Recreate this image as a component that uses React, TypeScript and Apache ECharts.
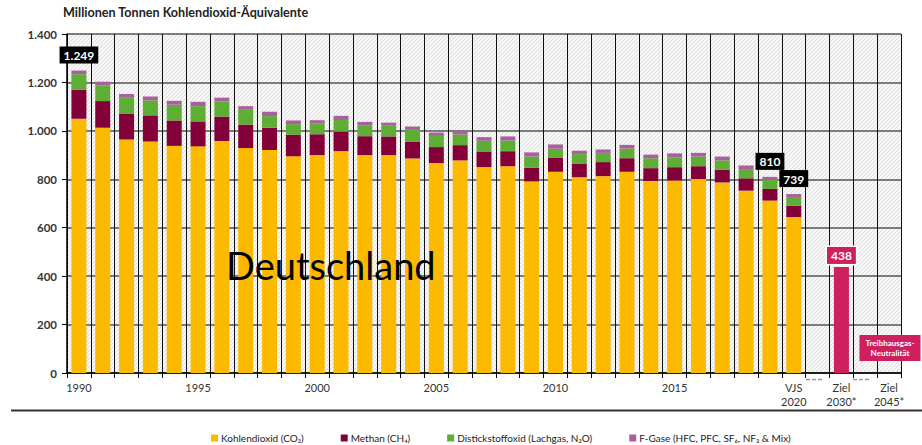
import React, { useEffect, useRef } from 'react';
import * as echarts from 'echarts';

const categories = [
  '1990', '1991', '1992', '1993', '1994', '1995', '1996', '1997', '1998', '1999',
  '2000', '2001', '2002', '2003', '2004', '2005', '2006', '2007', '2008', '2009',
  '2010', '2011', '2012', '2013', '2014', '2015', '2016', '2017', '2018', '2019',
  'VJS 2020', 'gap1', 'Ziel 2030*', 'gap2', 'Ziel 2045*',
];

const shownYearLabels = ['1990', '1995', '2000', '2005', '2010', '2015'];

const co2 = [1050, 1013, 964, 956, 938, 936, 958, 929, 921, 895, 900, 916, 900, 900, 886, 867, 878, 850, 854, 791, 831, 809, 813, 831, 793, 795, 801, 787, 753, 712, 644];
const ch4 = [120, 110, 108, 108, 105, 103, 101, 97, 92, 89, 86, 81, 78, 77, 70, 66, 63, 65, 62, 57, 59, 56, 58, 56, 53, 55, 53, 52, 51, 48, 47];
const n2o = [64, 65, 65, 62, 65, 63, 63, 61, 48, 44, 44, 48, 45, 44, 48, 46, 44, 44, 44, 46, 36, 39, 38, 40, 41, 40, 40, 39, 38, 37, 36];
const fgas = [15, 15, 15, 16, 16, 18, 15, 15, 18, 15, 14, 17, 14, 13, 14, 14, 15, 15, 17, 17, 18, 14, 14, 15, 15, 17, 15, 16, 15, 13, 12];

const target2030 = 438;
const labeledTotals = ['1990', '2019', 'VJS 2020'];

const seriesNames = [
  'Kohlendioxid (CO₂)',
  'Methan (CH₄)',
  'Distickstoffoxid (Lachgas, N₂O)',
  'F-Gase (HFC, PFC, SF₆, NF₃ & Mix)',
];
const colors = ['#FBBA00', '#830039', '#5EAD35', '#A8609E'];
const targetColor = '#CE1F5E';

const fmt = (v: number) => String(v).replace(/\B(?=(\d{3})+(?!\d))/g, '.');
const FONT = 'Lato, "Noto Sans", sans-serif';

function pad(arr: number[]) {
  return categories.map((_, i) => (i < arr.length ? arr[i] : '-'));
}

function makeHatch() {
  const c = document.createElement('canvas');
  const s = 4;
  c.width = s;
  c.height = s;
  const ctx = c.getContext('2d')!;
  ctx.fillStyle = '#f7f7f7';
  ctx.fillRect(0, 0, s, s);
  ctx.strokeStyle = '#dddddd';
  ctx.lineWidth = 1;
  ctx.beginPath();
  ctx.moveTo(-1, s + 1);
  ctx.lineTo(s + 1, -1);
  ctx.moveTo(-1, 1);
  ctx.lineTo(1, -1);
  ctx.moveTo(s - 1, s + 1);
  ctx.lineTo(s + 1, s - 1);
  ctx.stroke();
  return { url: c.toDataURL(), size: s };
}

export default function App() {
  const ref = useRef<HTMLDivElement>(null);
  useEffect(() => {
    const chart = echarts.init(ref.current!, null, { renderer: 'svg' });
    const hatch = makeHatch();
    const totals = co2.map((v, i) => v + ch4[i] + n2o[i] + fgas[i]);
    const gridL = 67, gridT = 34, gridR = 21, gridB = 72;
    const targetIdx = categories.indexOf('Ziel 2030*');

    const stackSeries = [co2, ch4, n2o, fgas].map((arr, si) => ({
      name: seriesNames[si],
      type: 'bar',
      stack: 'total',
      barWidth: 15,
      itemStyle: { color: colors[si] },
      emphasis: { disabled: true },
      data: pad(arr).map((v, i) => {
        if (si === 3 && labeledTotals.includes(categories[i])) {
          return {
            value: v,
            label: {
              show: true,
              position: 'top',
              distance: 7,
              formatter: fmt(totals[i]),
              color: '#fff',
              fontFamily: FONT,
              fontWeight: 'bold',
              fontSize: 12,
              backgroundColor: '#000',
              padding: [3, 4, 2, 4],
            },
          };
        }
        return v;
      }),
    }));

    const option: any = {
      animation: false,
      grid: { left: gridL, top: gridT, right: gridR, bottom: gridB },
      legend: {
        data: seriesNames,
        left: 206,
        top: 428,
        itemWidth: 7,
        itemHeight: 7,
        itemGap: 37,
        icon: 'rect',
        textStyle: { fontFamily: FONT, fontSize: 10, color: '#222', padding: [0, 0, 0, -2] },
      },
      xAxis: {
        type: 'category',
        data: categories,
        boundaryGap: true,
        axisLine: { lineStyle: { color: '#000', width: 1.5 } },
        axisTick: { show: true, interval: 0, length: 5, lineStyle: { color: '#000' } },
        splitLine: { show: true, interval: 0, lineStyle: { color: '#111', width: 1 } },
        axisLabel: {
          interval: 0,
          margin: 7,
          fontFamily: FONT,
          fontSize: 11,
          color: '#333',
          lineHeight: 14,
          formatter: (v: string) => {
            if (shownYearLabels.includes(v)) return v;
            if (v === 'VJS 2020' || v === 'Ziel 2030*' || v === 'Ziel 2045*') return v.replace(' ', '\n');
            return '';
          },
        },
      },
      yAxis: {
        type: 'value',
        min: 0,
        max: 1400,
        interval: 200,
        axisLine: { show: true, lineStyle: { color: '#000', width: 1.5 } },
        axisTick: { show: true, length: 5, lineStyle: { color: '#000' } },
        splitLine: { show: true, lineStyle: { color: '#555', width: 1.5 } },
        axisLabel: {
          formatter: (v: number) => fmt(v),
          fontFamily: FONT,
          fontWeight: 'bold',
          fontSize: 11.5,
          color: '#333',
          margin: 10,
        },
      },
      graphic: [
        {
          type: 'rect',
          z: -10,
          silent: true,
          shape: { x: gridL, y: gridT, width: 922 - gridL - gridR, height: 445 - gridT - gridB },
          style: {
            fill: { image: hatch.url, repeat: 'repeat', imageWidth: hatch.size, imageHeight: hatch.size },
          },
        },
        {
          type: 'text',
          left: 63,
          top: 6,
          style: { text: 'Millionen Tonnen Kohlendioxid-Äquivalente', font: `bold 12.6px ${FONT}`, fill: '#222' },
        },
        {
          type: 'text',
          x: 226,
          y: 265,
          z: 20,
          style: {
            text: 'Deutschland',
            font: `38px ${FONT}`,
            fill: '#000',
            textVerticalAlign: 'middle',
          },
        },
        {
          type: 'text',
          x: 890,
          y: 348,
          z: 20,
          style: {
            text: 'Treibhausgas-\nNeutralität',
            font: `bold 8px ${FONT}`,
            fill: '#fff',
            align: 'center',
            verticalAlign: 'middle',
            lineHeight: 10,
            backgroundColor: targetColor,
            padding: [3, 6, 3, 6],
          },
        },
        {
          type: 'line',
          shape: { x1: 806, y1: 379.5, x2: 823, y2: 379.5 },
          style: { stroke: '#999', lineWidth: 1.5, lineDash: [4, 2] },
        },
        {
          type: 'line',
          shape: { x1: 853, y1: 379.5, x2: 870, y2: 379.5 },
          style: { stroke: '#999', lineWidth: 1.5, lineDash: [4, 2] },
        },
        {
          type: 'line',
          shape: { x1: 11, y1: 410.5, x2: 922, y2: 410.5 },
          style: { stroke: '#333', lineWidth: 2 },
        },
      ],
      series: [
        ...stackSeries,
        {
          name: 'Ziel 2030',
          type: 'bar',
          stack: 'total',
          barWidth: 15,
          itemStyle: { color: targetColor },
          emphasis: { disabled: true },
          data: categories.map((_, i) =>
            i === targetIdx
              ? {
                  value: target2030,
                  label: {
                    show: true,
                    position: 'top',
                    distance: 3,
                    formatter: fmt(target2030),
                    color: '#fff',
                    fontFamily: FONT,
                    fontWeight: 'bold',
                    fontSize: 12,
                    backgroundColor: targetColor,
                    borderColor: '#fff',
                    borderWidth: 1.5,
                    padding: [3, 4, 2, 4],
                  },
                }
              : '-'
          ),
        },
      ],
    };
    chart.setOption(option);
    return () => chart.dispose();
  }, []);
  return (
    <div
      ref={ref}
      style={{ position: 'fixed', left: 0, top: 0, width: 922, height: 445, background: '#fff' }}
    />
  );
}
